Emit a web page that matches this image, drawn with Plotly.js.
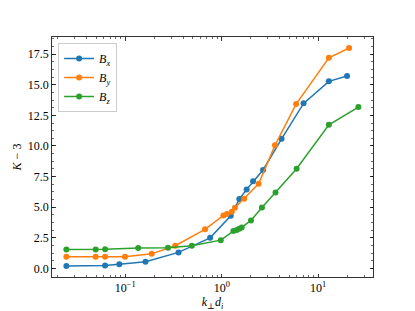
<!DOCTYPE html>
<html>
<head>
<meta charset="utf-8">
<script src="https://cdn.plot.ly/plotly-3.0.1.min.js"></script>
<style>html,body{margin:0;padding:0;background:#fff}#chart{width:415px;height:311px}</style>
</head>
<body>
<div id="chart"></div>
<script>
// Data
const bxK = [0.0245, 0.0617, 0.0867, 0.162, 0.356, 0.757, 1.24, 1.52, 1.81, 2.11, 2.68, 4.17, 7.05, 12.9, 19.9];
const bxV = [0.19, 0.24, 0.35, 0.55, 1.31, 2.50, 4.30, 5.66, 6.45, 7.11, 8.04, 10.59, 13.48, 15.28, 15.71];

const byK = [0.0245, 0.0493, 0.0617, 0.0993, 0.188, 0.329, 0.671, 1.04, 1.13, 1.27, 1.37, 1.71, 2.41, 3.56, 5.90, 12.9, 20.9];
const byV = [0.95, 0.95, 0.95, 0.95, 1.19, 1.85, 3.19, 4.33, 4.44, 4.62, 4.95, 5.69, 6.91, 10.05, 13.42, 17.2, 18.0];

const bzK = [0.0245, 0.0493, 0.0617, 0.136, 0.277, 0.49, 0.976, 1.32, 1.43, 1.52, 1.61, 2.01, 2.61, 3.61, 5.97, 12.9, 26.1];
const bzV = [1.55, 1.55, 1.57, 1.66, 1.68, 1.86, 2.31, 3.05, 3.13, 3.24, 3.35, 3.92, 4.98, 6.21, 8.14, 11.73, 13.18];

const seriesNames = ['<i>B</i><sub><i>x</i></sub>', '<i>B</i><sub><i>y</i></sub>', '<i>B</i><sub><i>z</i></sub>'];
const xTickVals = [0.1, 1, 10];
const xTickText = ['10<sup>−1</sup>', '10<sup>0</sup>', '10<sup>1</sup>'];
const xMinorVals = [0.02,0.03,0.04,0.05,0.06,0.07,0.08,0.09,0.2,0.3,0.4,0.5,0.6,0.7,0.8,0.9,2,3,4,5,6,7,8,9,20,30];
const yTickVals = [0, 2.5, 5, 7.5, 10, 12.5, 15, 17.5];
const yTickText = ['0.0', '2.5', '5.0', '7.5', '10.0', '12.5', '15.0', '17.5'];

const colors = ['#1f77b4', '#ff7f0e', '#2ca02c'];
const xs = [bxK, byK, bzK];
const ys = [bxV, byV, bzV];

const traces = xs.map((x, i) => ({
  x: x, y: ys[i], name: seriesNames[i],
  type: 'scatter', mode: 'lines+markers',
  line: {color: colors[i], width: 1.5},
  marker: {color: colors[i], size: 6}
}));

const FAM = 'Times New Roman, Liberation Serif, DejaVu Serif, serif';
const font = {family: FAM, size: 12, color: '#000'};

const layout = {
  width: 415, height: 311,
  margin: {l: 52, r: 42, t: 37, b: 34, pad: 0},
  paper_bgcolor: '#fff', plot_bgcolor: '#fff',
  font: font,
  showlegend: true,
  legend: {
    x: 0.019, y: 0.975, xanchor: 'left', yanchor: 'top',
    bgcolor: 'rgba(255,255,255,0.8)', bordercolor: '#cccccc', borderwidth: 1,
    font: {family: FAM, size: 12, color: '#000'},
    tracegroupgap: 0, itemwidth: 30
  },
  xaxis: {
    type: 'log', range: [-1.76, 1.568],
    tickvals: xTickVals, ticktext: xTickText,
    ticks: 'inside', ticklen: 3.5, tickwidth: 0.8, tickcolor: '#000',
    showline: true, linecolor: '#000', linewidth: 0.8, mirror: 'allticks',
    showgrid: false, zeroline: false,
    minor: {ticks: 'inside', ticklen: 2, tickwidth: 0.6, tickcolor: '#000', showgrid: false, tickvals: xMinorVals},
    tickfont: {family: FAM, size: 12, color: '#000'},
    title: {text: '<i>k</i><sub>⊥</sub><i>d</i><sub><i>i</i></sub>', font: {family: FAM, size: 12, color: '#000'}, standoff: 4}
  },
  yaxis: {
    range: [-0.70, 18.9],
    tickvals: yTickVals, ticktext: yTickText,
    ticks: 'inside', ticklen: 3.5, tickwidth: 0.8, tickcolor: '#000',
    showline: true, linecolor: '#000', linewidth: 0.8, mirror: 'allticks',
    showgrid: false, zeroline: false,
    minor: {ticks: 'inside', ticklen: 2, tickwidth: 0.6, tickcolor: '#000', showgrid: false, dtick: 0.625, tick0: 0},
    tickfont: {family: FAM, size: 12, color: '#000'},
    title: {text: '<i>K</i> − 3', font: {family: FAM, size: 12, color: '#000'}, standoff: 3}
  }
};

Plotly.newPlot('chart', traces, layout, {displayModeBar: false, staticPlot: true});
</script>
</body>
</html>
